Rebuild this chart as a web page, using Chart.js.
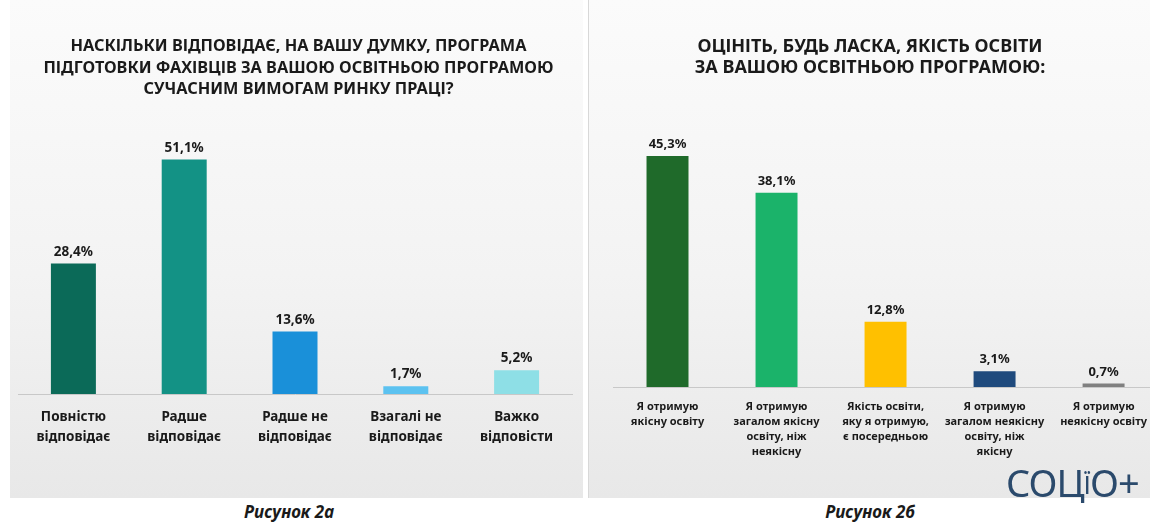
<!DOCTYPE html>
<html lang="uk">
<head>
<meta charset="utf-8">
<script src="https://cdn.jsdelivr.net/npm/chart.js@4.4.1/dist/chart.umd.min.js"></script>
<style>
  body { margin: 0; width: 1150px; height: 524px; background: #fff; position: relative; overflow: hidden; font-family: "Noto Sans", sans-serif; }
  .panel { position: absolute; top: 0; height: 498px; background: linear-gradient(#fbfbfb, #f3f3f3 55%, #e8e8e8); }
  #p1 { left: 10px; width: 573px; }
  #p2 { left: 588px; width: 562px; border-left: 1px solid #d8d8d8; }
  canvas { position: absolute; top: 0; }
  .caption { position: absolute; top: 500px; width: 300px; text-align: center; font-weight: bold; font-style: italic; font-size: 17px; color: #1a1a1a; }
  #logo { position: absolute; left: 1006px; top: 456px; font-size: 38px; color: #2b4a6c; letter-spacing: -1px; }
  #logo span { font-size: 26px; vertical-align: 3px; }
</style>
</head>
<body>
<div class="panel" id="p1"></div>
<div class="panel" id="p2"></div>
<canvas id="chart1" width="575" height="470" style="left:10px"></canvas>
<canvas id="chart2" width="578" height="470" style="left:581px"></canvas>
<div class="caption" style="left:139px">Рисунок 2а</div>
<div class="caption" style="left:720px">Рисунок 2б</div>
<div id="logo">СОЦ<span>Ї</span>О+</div>
<script>
const font = "Noto Sans";

const title1 = [
  "НАСКІЛЬКИ ВІДПОВІДАЄ, НА ВАШУ ДУМКУ, ПРОГРАМА",
  "ПІДГОТОВКИ ФАХІВЦІВ ЗА ВАШОЮ ОСВІТНЬОЮ ПРОГРАМОЮ",
  "СУЧАСНИМ ВИМОГАМ РИНКУ ПРАЦІ?",
];
const labels1 = [
  ["Повністю", "відповідає"],
  ["Радше", "відповідає"],
  ["Радше не", "відповідає"],
  ["Взагалі не", "відповідає"],
  ["Важко", "відповісти"],
];
const values1 = [28.4, 51.1, 13.6, 1.7, 5.2];
const colors1 = ["#0b6a58", "#139285", "#1a90d9", "#5cc2f0", "#8edfe6"];

const title2 = [
  "ОЦІНІТЬ, БУДЬ ЛАСКА, ЯКІСТЬ ОСВІТИ",
  "ЗА ВАШОЮ ОСВІТНЬОЮ ПРОГРАМОЮ:",
];
const labels2 = [
  ["Я отримую", "якісну освіту"],
  ["Я отримую", "загалом якісну", "освіту, ніж", "неякісну"],
  ["Якість освіти,", "яку я отримую,", "є посередньою"],
  ["Я отримую", "загалом неякісну", "освіту, ніж", "якісну"],
  ["Я отримую", "неякісну освіту"],
];
const values2 = [45.3, 38.1, 12.8, 3.1, 0.7];
const colors2 = ["#1f6a2a", "#1bb36a", "#ffc000", "#1f4a7d", "#808080"];

// percent labels above each bar
const valueLabels = {
  id: "valueLabels",
  afterDatasetsDraw(chart, args, opts) {
    const ctx = chart.ctx;
    const ds = chart.data.datasets[0];
    ctx.save();
    ctx.font = "bold " + opts.size + "px '" + font + "'";
    ctx.fillStyle = "#1a1a1a";
    ctx.textAlign = "center";
    ctx.textBaseline = "bottom";
    chart.getDatasetMeta(0).data.forEach((bar, i) => {
      ctx.fillText(ds.data[i].toFixed(1).replace(".", ",") + "%", bar.x, bar.y - opts.gap);
    });
    ctx.restore();
  },
};

function makeChart(id, cfg) {
  return new Chart(document.getElementById(id), {
    type: "bar",
    data: {
      labels: cfg.labels,
      datasets: [{ data: cfg.values, backgroundColor: cfg.colors, barPercentage: cfg.barPct, categoryPercentage: 1 }],
    },
    options: {
      responsive: false,
      animation: false,
      layout: { padding: cfg.padding },
      plugins: {
        legend: { display: false },
        tooltip: { enabled: false },
        title: {
          display: true,
          text: cfg.title,
          color: "#1a1a1a",
          font: { family: font, size: cfg.titleSize, weight: "bold", lineHeight: cfg.titleLine },
          padding: { top: cfg.titleTop, bottom: cfg.titleGap },
        },
        valueLabels: { size: cfg.valueSize, gap: 5 },
      },
      scales: {
        x: {
          grid: { display: false, drawTicks: false },
          border: { color: "#c8c8c8", width: 1 },
          ticks: {
            color: "#1a1a1a",
            autoSkip: false,
            maxRotation: 0,
            padding: cfg.tickPad,
            font: { family: font, size: cfg.tickSize, weight: "bold", lineHeight: cfg.tickLine },
          },
          afterFit(scale) { scale.height = cfg.axisHeight; },
        },
        // invisible y axis, used only as a spacer so the title stays centred on the panel
        y: {
          position: cfg.yPos,
          min: 0,
          max: cfg.max,
          grid: { display: false, drawTicks: false },
          border: { display: false },
          ticks: { display: false },
          afterFit(scale) { scale.width = cfg.yWidth; },
        },
      },
    },
    plugins: [valueLabels],
  });
}

makeChart("chart1", {
  title: title1, labels: labels1, values: values1, colors: colors1,
  padding: { left: 8, right: 6, top: 0, bottom: 0 }, yPos: "right", yWidth: 7,
  titleSize: 16.3, titleLine: 1.32, titleTop: 36, titleGap: 18,
  max: 60, barPct: 0.406, valueSize: 13.5,
  tickSize: 13.5, tickLine: 1.48, tickPad: 13, axisHeight: 76,
});

makeChart("chart2", {
  title: title2, labels: labels2, values: values2, colors: colors2,
  padding: { left: 0, right: 0, top: 0, bottom: 0 }, yPos: "left", yWidth: 32,
  titleSize: 18, titleLine: 1.17, titleTop: 36, titleGap: 54,
  max: 50, barPct: 0.385, valueSize: 13,
  tickSize: 11, tickLine: 1.36, tickPad: 12, axisHeight: 83,
});
</script>
</body>
</html>
